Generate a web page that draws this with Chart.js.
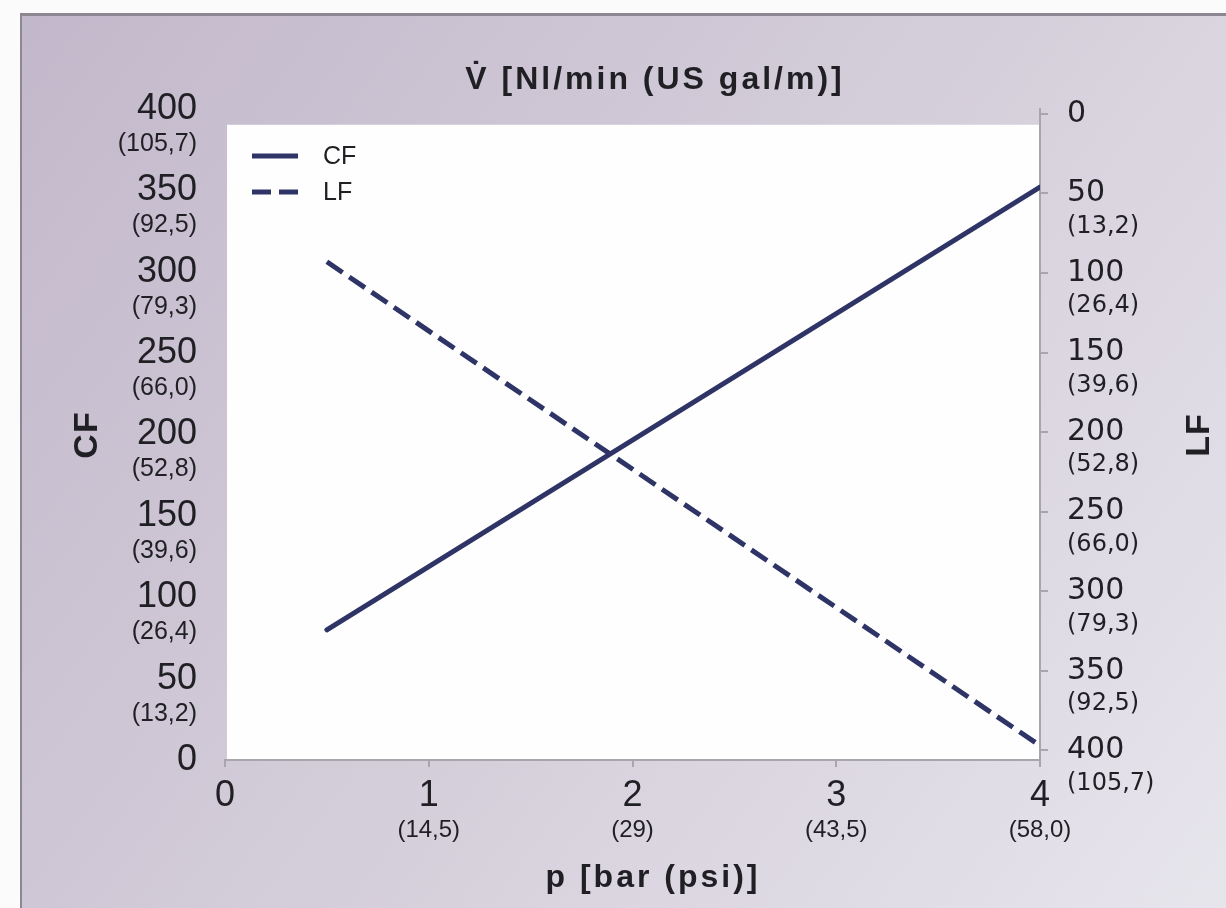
<!DOCTYPE html>
<html>
<head>
<meta charset="utf-8">
<script src="https://cdn.jsdelivr.net/npm/chart.js@4.4.1/dist/chart.umd.min.js"></script>
<style>
html,body{margin:0;padding:0;background:#fff;}
#wrap{width:1226px;height:908px;position:relative;}
canvas{display:block;}
</style>
</head>
<body>
<div id="wrap"><canvas id="c" width="1226" height="908"></canvas></div>
<script>
// ---- data ----
const xTicks = [0, 1, 2, 3, 4];
const xSubLabels = ['', '(14,5)', '(29)', '(43,5)', '(58,0)'];
const cfTicks = [0, 50, 100, 150, 200, 250, 300, 350, 400];
const cfSubLabels = ['', '(13,2)', '(26,4)', '(39,6)', '(52,8)', '(66,0)', '(79,3)', '(92,5)', '(105,7)'];
const lfTicks = [0, 50, 100, 150, 200, 250, 300, 350, 400];
const lfSubLabels = ['', '(13,2)', '(26,4)', '(39,6)', '(52,8)', '(66,0)', '(79,3)', '(92,5)', '(105,7)'];
const pressure = [0.5, 4];
const cfValues = [80, 352];
const lfValues = [93, 397];
const seriesNames = ['CF', 'LF'];
const titleTop = 'V\u0307 [Nl/min (US gal/m)]';
const titleX = 'p [bar (psi)]';

const LINE = '#2e3466';
const TEXT = '#1f1f24';
const AXIS = '#a9a5ad';

const decor = {
  id: 'decor',
  beforeDraw(chart) {
    const ctx = chart.ctx, ca = chart.chartArea;
    ctx.save();
    ctx.fillStyle = '#fbfbfb';
    ctx.fillRect(0, 0, 1226, 908);
    const g = ctx.createLinearGradient(22, 15, 1226, 908);
    g.addColorStop(0, '#c2b8cb');
    g.addColorStop(0.45, '#d2cbd8');
    g.addColorStop(1, '#e7e5ec');
    ctx.fillStyle = g;
    ctx.fillRect(22, 15, 1204, 893);
    ctx.fillStyle = '#8c8791';
    ctx.fillRect(22, 13, 1204, 3);
    ctx.fillRect(20, 13, 2, 895);
    // white plot box
    const y2 = chart.scales.y2;
    const top = y2.getPixelForValue(0) + 11;
    ctx.fillStyle = '#fefefe';
    ctx.fillRect(ca.left + 2, top, ca.right - ca.left - 2, ca.bottom - top);
    ctx.restore();
  },
  afterDraw(chart) {
    const ctx = chart.ctx, ca = chart.chartArea;
    const sx = chart.scales.x, sy = chart.scales.y, sy2 = chart.scales.y2;
    ctx.save();
    ctx.fillStyle = TEXT;
    ctx.textBaseline = 'middle';
    // left sub labels
    ctx.font = '25px "Liberation Sans", Arial, sans-serif';
    ctx.textAlign = 'right';
    cfTicks.forEach((v, i) => {
      if (cfSubLabels[i]) ctx.fillText(cfSubLabels[i], sy.right - 28, sy.getPixelForValue(v) + 35);
    });
    // right sub labels
    ctx.font = '24px "DejaVu Sans", Verdana, sans-serif';
    ctx.textAlign = 'left';
    lfTicks.forEach((v, i) => {
      if (lfSubLabels[i]) ctx.fillText(lfSubLabels[i], sy2.left + 27, sy2.getPixelForValue(v) + 33);
    });
    // x sub labels
    ctx.font = '24px "Liberation Sans", Arial, sans-serif';
    ctx.textAlign = 'center';
    xTicks.forEach((v, i) => {
      if (xSubLabels[i]) ctx.fillText(xSubLabels[i], sx.getPixelForValue(v), 830);
    });
    // titles
    ctx.font = 'bold 32px "Liberation Sans", Arial, sans-serif';
    try { ctx.letterSpacing = '3px'; } catch (e) {}
    ctx.textAlign = 'center';
    ctx.fillText(titleTop, 655, 80);
    ctx.fillText(titleX, 653, 878);
    ctx.font = 'bold 34px "Liberation Sans", Arial, sans-serif';
    try { ctx.letterSpacing = '1px'; } catch (e) {}
    ctx.save();
    ctx.translate(88, 435);
    ctx.rotate(-Math.PI / 2);
    ctx.fillText(sy.options.title.text, 0, 0);
    ctx.restore();
    ctx.save();
    ctx.translate(1200, 435);
    ctx.rotate(-Math.PI / 2);
    ctx.fillText(sy2.options.title.text, 0, 0);
    ctx.restore();
    try { ctx.letterSpacing = '0px'; } catch (e) {}
    // legend
    const legY = [156, 192];
    chart.data.datasets.forEach((ds, i) => {
      ctx.save();
      ctx.strokeStyle = ds.borderColor;
      ctx.lineWidth = 5;
      ctx.setLineDash(ds.borderDash || []);
      ctx.beginPath();
      ctx.moveTo(252, legY[i]);
      ctx.lineTo(298, legY[i]);
      ctx.stroke();
      ctx.restore();
      ctx.font = '25px "Liberation Sans", Arial, sans-serif';
      ctx.textAlign = 'left';
      ctx.fillStyle = TEXT;
      ctx.fillText(ds.label, 323, legY[i] + 1);
    });
    ctx.restore();
  }
};

new Chart(document.getElementById('c'), {
  type: 'line',
  data: {
    datasets: [
      {
        label: seriesNames[0],
        data: pressure.map((p, i) => ({ x: p, y: cfValues[i] })),
        yAxisID: 'y',
        borderColor: LINE,
        borderWidth: 5,
        pointRadius: 0,
        borderCapStyle: 'round',
        tension: 0
      },
      {
        label: seriesNames[1],
        data: pressure.map((p, i) => ({ x: p, y: lfValues[i] })),
        yAxisID: 'y2',
        borderColor: LINE,
        borderWidth: 5,
        borderDash: [19, 8],
        pointRadius: 0,
        borderCapStyle: 'butt',
        tension: 0
      }
    ]
  },
  options: {
    responsive: false,
    devicePixelRatio: 1,
    animation: false,
    layout: { padding: { top: 109, left: 0, right: 0, bottom: 0 } },
    plugins: { legend: { display: false }, tooltip: { enabled: false }, title: { display: false } },
    scales: {
      x: {
        type: 'linear',
        min: 0, max: 4,
        afterBuildTicks: s => { s.ticks = xTicks.map(v => ({ value: v })); },
        afterFit: s => { s.height = 148; },
        ticks: {
          font: { family: '"Liberation Sans", Arial, sans-serif', size: 36 },
          color: TEXT, padding: 7, maxRotation: 0, autoSkip: false,
          callback: v => String(v)
        },
        grid: { drawOnChartArea: false, drawTicks: true, tickLength: 7, color: AXIS, lineWidth: 2 },
        border: { display: true, color: AXIS, width: 2 }
      },
      y: {
        type: 'linear',
        position: 'left',
        min: 0, max: 400,
        title: { display: false, text: 'CF' },
        afterBuildTicks: s => { s.ticks = cfTicks.map(v => ({ value: v })); },
        afterFit: s => { s.width = 225; },
        ticks: {
          font: { family: '"Liberation Sans", Arial, sans-serif', size: 36 },
          color: TEXT, padding: 28, autoSkip: false,
          callback: v => String(v)
        },
        grid: { display: false, drawTicks: false },
        border: { display: false }
      },
      y2: {
        type: 'linear',
        position: 'right',
        reverse: true,
        min: -3, max: 406,
        title: { display: false, text: 'LF' },
        afterBuildTicks: s => { s.ticks = lfTicks.map(v => ({ value: v })); },
        afterFit: s => { s.width = 186; },
        ticks: {
          font: { family: '"DejaVu Sans", Verdana, sans-serif', size: 30 },
          color: TEXT, padding: 19, autoSkip: false,
          callback: v => String(v)
        },
        grid: { drawOnChartArea: false, drawTicks: true, tickLength: 8, color: AXIS, lineWidth: 2 },
        border: { display: true, color: AXIS, width: 2 }
      }
    }
  },
  plugins: [decor]
});
</script>
</body>
</html>
